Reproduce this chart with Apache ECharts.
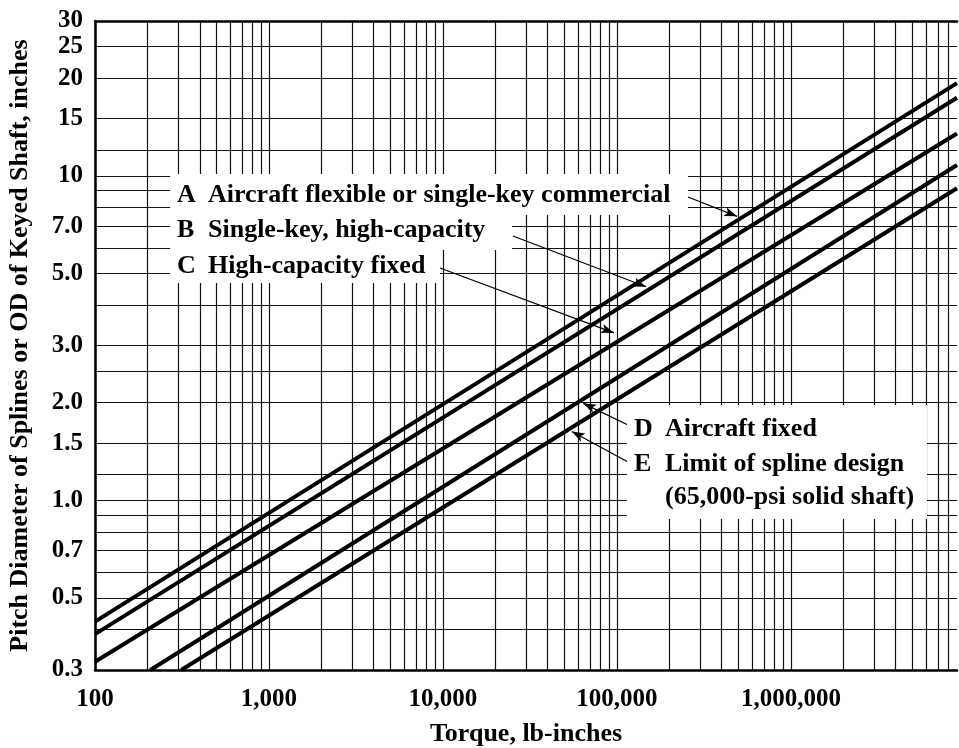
<!DOCTYPE html>
<html>
<head>
<meta charset="utf-8">
<script src="https://cdn.jsdelivr.net/npm/echarts@6/dist/echarts.min.js"></script>
<style>
html,body{margin:0;padding:0;background:#fff;}
#chart{width:959px;height:748px;}
</style>
</head>
<body>
<div id="chart"></div>
<script>
// ---- data ----
const xTickLabels = [100, 1000, 10000, 100000, 1000000];
const xGridValues = [
  100, 200, 300, 400, 500, 600, 700, 800, 900,
  1000, 2000, 3000, 4000, 5000, 6000, 7000, 8000, 9000,
  10000, 20000, 30000, 40000, 50000, 60000, 70000, 80000, 90000,
  100000, 200000, 300000, 400000, 500000, 600000, 700000, 800000, 900000,
  1000000, 2000000, 3000000, 4000000, 5000000, 6000000, 7000000, 8000000
];
const yTickLabels = [0.3, 0.5, 0.7, 1, 1.5, 2, 3, 5, 7, 10, 15, 20, 25, 30];
const yGridValues = [0.3, 0.4, 0.5, 0.6, 0.7, 0.8, 0.9, 1, 1.2, 1.5, 2, 2.5, 3, 4, 5, 6, 7, 8, 9, 10, 12, 15, 20, 25, 30];

// torque (lb-in), diameter (in)
const lineA = [[100, 0.423], [9000000, 19.3]];
const lineB = [[100, 0.387], [9000000, 17.4]];
const lineC = [[100, 0.318], [9000000, 13.5]];
const lineD = [[208, 0.3], [9000000, 10.8]];
const lineE = [[313, 0.3], [9000000, 9.16]];

const seriesNames = ['A', 'B', 'C', 'D', 'E'];
const seriesLabels = [
  'Aircraft flexible or single-key commercial',
  'Single-key, high-capacity',
  'High-capacity fixed',
  'Aircraft fixed',
  'Limit of spline design'
];
const seriesLabelExtra = '(65,000-psi solid shaft)';
// arrow tips (data coords on/near each line)
const arrowTips = [[490000, 7.5], [147000, 4.55], [96000, 3.28], [64000, 1.99], [55000, 1.63]];

// ---- styling / layout ----
const FONT = 'Liberation Serif';
const txt = (size) => ({fontFamily: FONT, fontWeight: 'bold', fontSize: size, color: '#000'});
const fmtX = v => String(Math.round(v)).replace(/\B(?=(\d{3})+(?!\d))/g, ',');
const fmtY = v => {
  const r = Math.round(v * 100) / 100;
  return r < 10 ? r.toFixed(1) : String(Math.round(r));
};
const arrowTails = [{x: 688, y: 197}, {x: 513, y: 236}, {x: 440, y: 268}, {x: 628, y: 425}, {x: 628, y: 462}];

const chart = echarts.init(document.getElementById('chart'), null, {renderer: 'canvas'});

const allLines = [lineA, lineB, lineC, lineD, lineE];
const series = allLines.map((d, i) => ({
  name: seriesNames[i],
  type: 'line',
  data: d,
  symbol: 'none',
  clip: true,
  lineStyle: {color: '#000', width: 4},
  silent: true,
  z: 3,
  markLine: {
    silent: true,
    symbol: ['none', 'arrow'],
    symbolSize: [7, 13],
    label: {show: false},
    lineStyle: {color: '#000', width: 1.2, type: 'solid'},
    data: [[arrowTails[i], {coord: arrowTips[i]}]]
  }
}));

const labelRows = [
  {y: 195, i: 0}, {y: 230, i: 1}, {y: 266, i: 2}
];
const graphics = [
  {type: 'rect', z: 10, shape: {x: 170, y: 174, width: 518, height: 41}, style: {fill: '#fff'}},
  {type: 'rect', z: 10, shape: {x: 170, y: 215, width: 342, height: 35}, style: {fill: '#fff'}},
  {type: 'rect', z: 10, shape: {x: 170, y: 250, width: 270, height: 33}, style: {fill: '#fff'}},
  {type: 'rect', z: 10, shape: {x: 627, y: 405, width: 300, height: 114}, style: {fill: '#fff'}}
];
const tstyle = (s, x, y) => ({text: s, x: x, y: y, fill: '#000', font: 'bold 26px "Liberation Serif"', verticalAlign: 'middle', align: 'left'});
labelRows.forEach(r => {
  graphics.push({type: 'text', z: 11, style: tstyle(seriesNames[r.i], 177, r.y)});
  graphics.push({type: 'text', z: 11, style: tstyle(seriesLabels[r.i], 208, r.y)});
});
[{y: 429, i: 3}, {y: 464, i: 4}].forEach(r => {
  graphics.push({type: 'text', z: 11, style: tstyle(seriesNames[r.i], 634, r.y)});
  graphics.push({type: 'text', z: 11, style: tstyle(seriesLabels[r.i], 665, r.y)});
});
graphics.push({type: 'text', z: 11, style: tstyle(seriesLabelExtra, 665, 497)});

const option = {
  animation: false,
  backgroundColor: '#fff',
  grid: {left: 95, right: 2, top: 21, bottom: 78, containLabel: false, outerBoundsMode: 'none'},
  xAxis: [{
    type: 'log', logBase: 10, min: 100, max: 9000000,
    position: 'bottom',
    name: 'Torque, lb-inches', nameLocation: 'middle', nameGap: 51,
    nameTextStyle: txt(26),
    axisLine: {show: true, onZero: false, lineStyle: {color: '#000', width: 2.5}},
    axisTick: {show: false, customValues: xGridValues},
    axisLabel: Object.assign({customValues: xTickLabels, formatter: fmtX, margin: 17, showMinLabel: true, showMaxLabel: true}, txt(25)),
    splitLine: {show: true, lineStyle: {color: '#111', width: 1.2}},
    minorTick: {show: false}, minorSplitLine: {show: false}
  }, {
    type: 'log', logBase: 10, min: 100, max: 9000000,
    position: 'top',
    axisLine: {show: true, onZero: false, lineStyle: {color: '#000', width: 2.5}},
    axisTick: {show: false}, axisLabel: {show: false}, splitLine: {show: false}
  }],
  yAxis: {
    type: 'log', logBase: 10, min: 0.3, max: 30,
    name: 'Pitch Diameter of Splines or OD of Keyed Shaft, inches',
    nameLocation: 'middle', nameGap: 62, nameRotate: 90,
    nameTextStyle: txt(26),
    axisLine: {show: true, onZero: false, lineStyle: {color: '#000', width: 2.5}},
    axisTick: {show: false, customValues: yGridValues},
    axisLabel: Object.assign({customValues: yTickLabels, formatter: fmtY, margin: 12, showMinLabel: true, showMaxLabel: true}, txt(25)),
    splitLine: {show: true, lineStyle: {color: '#111', width: 1.2}},
    minorTick: {show: false}, minorSplitLine: {show: false}
  },
  series: series,
  graphic: {elements: graphics}
};
chart.setOption(option);
</script>
</body>
</html>
